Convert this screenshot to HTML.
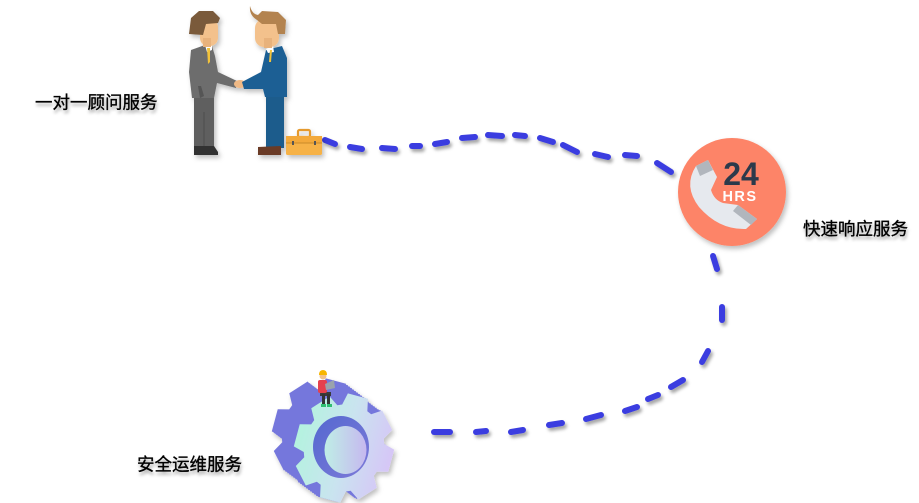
<!DOCTYPE html>
<html><head><meta charset="utf-8"><style>
html,body{margin:0;padding:0;background:#fff;}
body{width:919px;height:503px;overflow:hidden;position:relative;}
svg{position:absolute;left:0;top:0;}
.t{font-family:"Liberation Sans","Noto Sans CJK SC",sans-serif;font-size:17.5px;fill:#000;stroke:#000;stroke-width:0.35px;}
</style></head><body>
<svg width="919" height="503" viewBox="0 0 919 503" xmlns="http://www.w3.org/2000/svg">
<defs>
  <filter id="sh" x="-20%" y="-20%" width="160%" height="180%">
    <feDropShadow dx="2" dy="3" stdDeviation="1.5" flood-color="#000" flood-opacity="0.35"/>
  </filter>
  <filter id="sh2" x="-20%" y="-20%" width="150%" height="150%">
    <feDropShadow dx="2" dy="3" stdDeviation="2.5" flood-color="#000" flood-opacity="0.25"/>
  </filter>
  <filter id="ts" x="-10%" y="-30%" width="130%" height="180%">
    <feDropShadow dx="1" dy="3" stdDeviation="1.5" flood-color="#000" flood-opacity="0.35"/>
  </filter>
  <linearGradient id="face" x1="0" y1="0" x2="1" y2="0">
    <stop offset="0" stop-color="#b4f2df"/>
    <stop offset="0.5" stop-color="#c9e4ef"/>
    <stop offset="1" stop-color="#d6c6f7"/>
  </linearGradient>
  <linearGradient id="ext" gradientUnits="userSpaceOnUse" x1="370" y1="380" x2="285" y2="495">
    <stop offset="0" stop-color="#7477dc"/>
    <stop offset="0.5" stop-color="#5b86e2"/>
    <stop offset="1" stop-color="#56d4ef"/>
  </linearGradient>
  <linearGradient id="ring" x1="0" y1="0" x2="1" y2="1">
    <stop offset="0" stop-color="#5468d0"/>
    <stop offset="1" stop-color="#7d7ad8"/>
  </linearGradient>
  <linearGradient id="hole" x1="0" y1="0" x2="1" y2="0">
    <stop offset="0" stop-color="#bfeee6"/>
    <stop offset="1" stop-color="#c6b8ef"/>
  </linearGradient>
  <polygon id="gear" points="37.8,-13 48.9,-10.4 48.9,10.4 37.8,13 36,17.5 41.9,27.2 27.2,41.9 17.5,36 13,37.8 10.4,48.9 -10.4,48.9 -13,37.8 -17.5,36 -27.2,41.9 -41.9,27.2 -36,17.5 -37.8,13 -48.9,10.4 -48.9,-10.4 -37.8,-13 -36,-17.5 -41.9,-27.2 -27.2,-41.9 -17.5,-36 -13,-37.8 -10.4,-48.9 10.4,-48.9 13,-37.8 17.5,-36 27.2,-41.9 41.9,-27.2 36,-17.5"/>
</defs>

<!-- dashed connectors -->
<g stroke="#3b3de0" stroke-width="6" stroke-linecap="round" fill="none" filter="url(#sh)">
  <line x1="325" y1="140" x2="335" y2="144"/>
  <line x1="350" y1="147" x2="362" y2="149"/>
  <line x1="382" y1="148" x2="395" y2="149"/>
  <line x1="412" y1="146" x2="420" y2="146"/>
  <line x1="435" y1="144" x2="447" y2="142"/>
  <line x1="462" y1="138" x2="475" y2="137"/>
  <line x1="488" y1="135" x2="502" y2="136"/>
  <line x1="515" y1="135" x2="525" y2="136"/>
  <line x1="540" y1="138" x2="553" y2="142"/>
  <line x1="563" y1="145" x2="577" y2="152"/>
  <line x1="595" y1="154" x2="608" y2="157"/>
  <line x1="625" y1="155" x2="637" y2="156"/>
  <line x1="657" y1="163" x2="671" y2="172"/>

  <line x1="713" y1="256" x2="717" y2="269"/>
  <line x1="722" y1="307" x2="722" y2="320"/>
  <line x1="708" y1="351" x2="702" y2="362"/>
  <line x1="683" y1="380" x2="671" y2="387"/>
  <line x1="658" y1="395" x2="648" y2="399"/>
  <line x1="637" y1="407" x2="625" y2="411"/>
  <line x1="601" y1="415" x2="586" y2="419"/>
  <line x1="562" y1="423" x2="549" y2="425"/>
  <line x1="523" y1="430" x2="511" y2="432"/>
  <line x1="486" y1="431" x2="476" y2="432"/>
  <line x1="450" y1="432" x2="434" y2="432"/>
</g>

<!-- handshake men -->
<g filter="url(#sh2)">
  <!-- left man -->
  <rect x="194" y="96" width="20" height="52" fill="#5e5e5e"/>
  <line x1="204" y1="112" x2="204" y2="147" stroke="#4e4e4e" stroke-width="1"/>
  <path d="M194 146 L214 146 L218 152 L218 155 L194 155 Z" fill="#333"/>
  <path d="M191 50 L205 45 L212 46 L215 56 L218 72 L237 81 L236 88 L217 83 L214 98 L192 98 L189 72 Z" fill="#6d6d6d"/>
  <path d="M205 45 L212 45 L212 50 L207 52 Z" fill="#fff"/>
  <path d="M207 48 L210 48 L210 62 L208 64 Z" fill="#f2c23a"/>
  <path d="M198 86 L200 98 L204 96 L201 86 Z" fill="#555"/>
  <rect x="200" y="19" width="18" height="27" rx="8" fill="#f3c18c"/>
  <rect x="203" y="38" width="8" height="9" fill="#e8b27c"/>
  <path d="M189 34 L191 18 L199 11 L213 11 L220 18 L218 23 L206 24 L203 35 Z" fill="#7a5a3a"/>
  <!-- hands -->
  <ellipse cx="240" cy="84" rx="6" ry="4" fill="#f0b985"/>
  <!-- right man -->
  <rect x="266" y="95" width="18" height="53" fill="#1b5b8c"/>
  <path d="M258 147 L281 146 L281 155 L258 155 Z" fill="#6b3a25"/>
  <path d="M266 50 L282 46 L287 58 L287 97 L265 97 L263 89 L244 89 L242 82 L261 72 Z" fill="#1e5f94"/>
  <path d="M266 49 L273 46 L274 52 L268 53 Z" fill="#fff"/>
  <path d="M270 50 L272 50 L271 62 L269 62 Z" fill="#f2c23a"/>
  <rect x="255" y="19" width="24" height="28" rx="9" fill="#f3c18c"/>
  <rect x="264" y="38" width="8" height="10" fill="#e8b27c"/>
  <path d="M250 6 Q252 14 258 15 L262 11 L278 12 L286 20 L285 34 L278 34 L276 24 L262 24 L257 20 Q249 15 250 6 Z" fill="#b3834f"/>
  <!-- briefcase -->
  <rect x="298" y="130" width="12" height="7" rx="1.5" fill="none" stroke="#e59a2e" stroke-width="2.2"/>
  <rect x="286" y="136" width="36" height="19" rx="1.5" fill="#f6b247"/>
  <rect x="286" y="136" width="36" height="7" fill="#f3a93a"/>
  <line x1="286" y1="143" x2="322" y2="143" stroke="#c98a2a" stroke-width="1"/>
  <rect x="292" y="141" width="2" height="4" fill="#555"/>
  <rect x="314" y="141" width="2" height="4" fill="#555"/>
</g>

<!-- 24 HRS badge -->
<g filter="url(#sh2)">
  <circle cx="732" cy="192" r="54" fill="#fd8467"/>
</g>
<path d="M696 166 L708 160 L717 177 L711 190 Q714 200 723 203 L738 205 L757 219 L746 229 Q719 230 699 207 Q683 186 696 166 Z" fill="#e6e9ee"/>
<path d="M696 166 L708 160 L713 170 L700 176 Z" fill="#b1b6bd"/>
<path d="M738 205 L757 219 L751 225 L733 211 Z" fill="#b1b6bd"/>
<text x="741" y="185" text-anchor="middle" font-family="Liberation Sans, sans-serif" font-weight="bold" font-size="32" fill="#2c3a4b">24</text>
<text x="740" y="201" text-anchor="middle" font-family="Liberation Sans, sans-serif" font-weight="bold" font-size="14.5" letter-spacing="1.5" fill="#fff">HRS</text>

<!-- gear -->
<g filter="url(#sh2)">
  <g fill="url(#ext)">
    <use href="#gear" transform="translate(322,433) rotate(15) scale(1,1.1)"/>
    <use href="#gear" transform="translate(324,434.5) rotate(15) scale(1,1.1)"/>
    <use href="#gear" transform="translate(326,436) rotate(15) scale(1,1.1)"/>
    <use href="#gear" transform="translate(328,437.5) rotate(15) scale(1,1.1)"/>
    <use href="#gear" transform="translate(330,439) rotate(15) scale(1,1.1)"/>
    <use href="#gear" transform="translate(332,440.5) rotate(15) scale(1,1.1)"/>
    <use href="#gear" transform="translate(334,442) rotate(15) scale(1,1.1)"/>
    <use href="#gear" transform="translate(336,443.5) rotate(15) scale(1,1.1)"/>
    <use href="#gear" transform="translate(338,445) rotate(15) scale(1,1.1)"/>
    <use href="#gear" transform="translate(340,446.5) rotate(15) scale(1,1.1)"/>
    <use href="#gear" transform="translate(342,447.5) rotate(15) scale(1,1.1)"/>
  </g>
  <use href="#gear" fill="url(#face)" transform="translate(344,448) rotate(15) scale(1,1.1)"/>
</g>
<ellipse cx="341" cy="447" rx="28" ry="31" fill="url(#ring)"/>
<ellipse cx="345.5" cy="450" rx="21" ry="24" fill="url(#hole)"/>

<!-- little person on gear -->
<g>
  <rect x="320" y="392" width="11" height="4" fill="#3a3a3a"/>
  <rect x="322" y="394" width="3" height="11" fill="#333"/>
  <rect x="327" y="394" width="3" height="11" fill="#333"/>
  <rect x="321" y="404" width="5" height="3" fill="#2fbf72"/>
  <rect x="327" y="404" width="5" height="3" fill="#2fbf72"/>
  <rect x="318" y="380" width="9" height="13" rx="2" fill="#e5414d"/>
  <polygon points="325,384 334,380 335,388 326,390" fill="#9aa3ad"/>
  <circle cx="323" cy="376" r="3.5" fill="#f3c18c"/>
  <path d="M319 375 Q319 370 323 370 Q327 370 327 375 Z" fill="#f7b500"/>
</g>

<!-- labels -->
<g filter="url(#ts)">
  <text class="t" x="35" y="108.5">一对一顾问服务</text>
  <text class="t" x="803" y="235">快速响应服务</text>
  <text class="t" x="137" y="470.5">安全运维服务</text>
</g>
</svg>
</body></html>
